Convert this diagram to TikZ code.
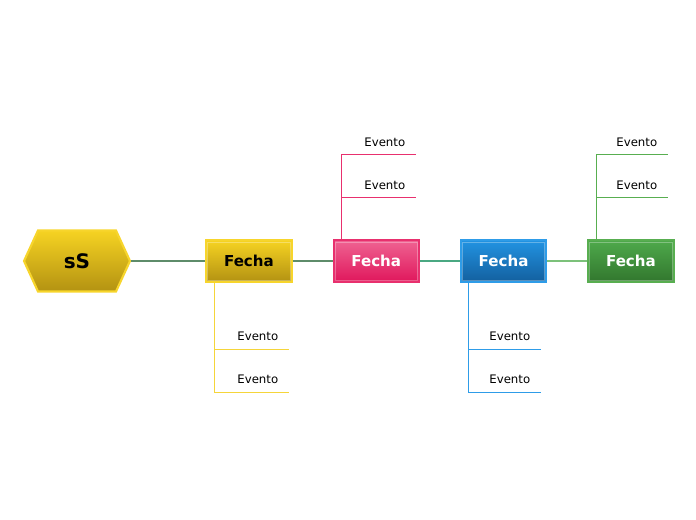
\documentclass[tikz,border=0pt]{standalone}
\usepackage{fontspec}
\setmainfont{DejaVu Sans}
\usetikzlibrary{positioning}

\definecolor{hexborder}{HTML}{F7D52C}
\definecolor{yelltop}{HTML}{F6D322}
\definecolor{yellbot}{HTML}{B39212}
\definecolor{yellline}{HTML}{F5D53A}
\definecolor{pinktop}{HTML}{EF6392}
\definecolor{pinkbot}{HTML}{E0175C}
\definecolor{pinkline}{HTML}{E8306E}
\definecolor{bluetop}{HTML}{2293E2}
\definecolor{bluebot}{HTML}{13609F}
\definecolor{blueline}{HTML}{2E9CE8}
\definecolor{greentop}{HTML}{4EA94B}
\definecolor{greenbot}{HTML}{32772E}
\definecolor{greenline}{HTML}{58AE50}
\definecolor{linkA}{HTML}{5E8C6A}
\definecolor{linkB}{HTML}{4AA882}
\definecolor{linkC}{HTML}{7CC17A}

\begin{document}
\begin{tikzpicture}[x=0.75pt, y=-0.75pt, node distance=30pt,
  fecha/.style={draw, line width=1.5pt, minimum width=64pt, minimum height=31pt,
    font=\fontsize{11.3}{13}\selectfont\bfseries, text=white,
    path picture={\draw[white, opacity=0.3, line width=0.6pt]
      ([shift={(1.2pt,-1.2pt)}]path picture bounding box.north west) rectangle
      ([shift={(-1.2pt,1.2pt)}]path picture bounding box.south east);}},
  evt/.style={anchor=south east, inner xsep=7.9pt, inner ysep=6pt,
    font=\fontsize{8.8}{10}\selectfont},
  link/.style={line width=1.2pt},
  branch/.style={line width=0.75pt}]
\useasboundingbox (0,0) rectangle (696,520);

% central topic
\shade[top color=yelltop, bottom color=yellbot, draw=hexborder, line width=1.6pt]
  (24,261) -- (38,230.5) -- (116,230.5) -- (130,261) -- (116,291.5) -- (38,291.5) -- cycle;
\node[minimum width=80pt, minimum height=45pt, font=\fontsize{15}{18}\selectfont\bfseries] (root) at (77,261) {sS};

% dates
\node[fecha, top color=yelltop, bottom color=yellbot, draw=hexborder, text=black, right=56pt of root] (f1) {Fecha};
\node[fecha, top color=pinktop, bottom color=pinkbot, draw=pinkline, right=of f1] (f2) {Fecha};
\node[fecha, top color=bluetop, bottom color=bluebot, draw=blueline, right=of f2] (f3) {Fecha};
\node[fecha, top color=greentop, bottom color=greenbot, draw=greenline, right=of f3] (f4) {Fecha};

\draw[link, linkA] (root) -- (f1);
\draw[link, linkA] (f1) -- (f2);
\draw[link, linkB] (f2) -- (f3);
\draw[link, linkC] (f3) -- (f4);

% events
\node[evt] (e1a) at (289,349) {Evento};
\node[evt] (e1b) at (289,392) {Evento};
\node[evt] (e2a) at (416,155) {Evento};
\node[evt] (e2b) at (416,198) {Evento};
\node[evt] (e3a) at (541,349) {Evento};
\node[evt] (e3b) at (541,392) {Evento};
\node[evt] (e4a) at (668,155) {Evento};
\node[evt] (e4b) at (668,198) {Evento};

\draw[branch, yellline] ([xshift=6.75pt]f1.south west) |- (e1a.south east);
\draw[branch, yellline] ([xshift=6.75pt]f1.south west) |- (e1b.south east);
\draw[branch, pinkline] ([xshift=6.75pt]f2.north west) |- (e2a.south east);
\draw[branch, pinkline] ([xshift=6.75pt]f2.north west) |- (e2b.south east);
\draw[branch, blueline] ([xshift=6.75pt]f3.south west) |- (e3a.south east);
\draw[branch, blueline] ([xshift=6.75pt]f3.south west) |- (e3b.south east);
\draw[branch, greenline] ([xshift=6.75pt]f4.north west) |- (e4a.south east);
\draw[branch, greenline] ([xshift=6.75pt]f4.north west) |- (e4b.south east);
\end{tikzpicture}
\end{document}
